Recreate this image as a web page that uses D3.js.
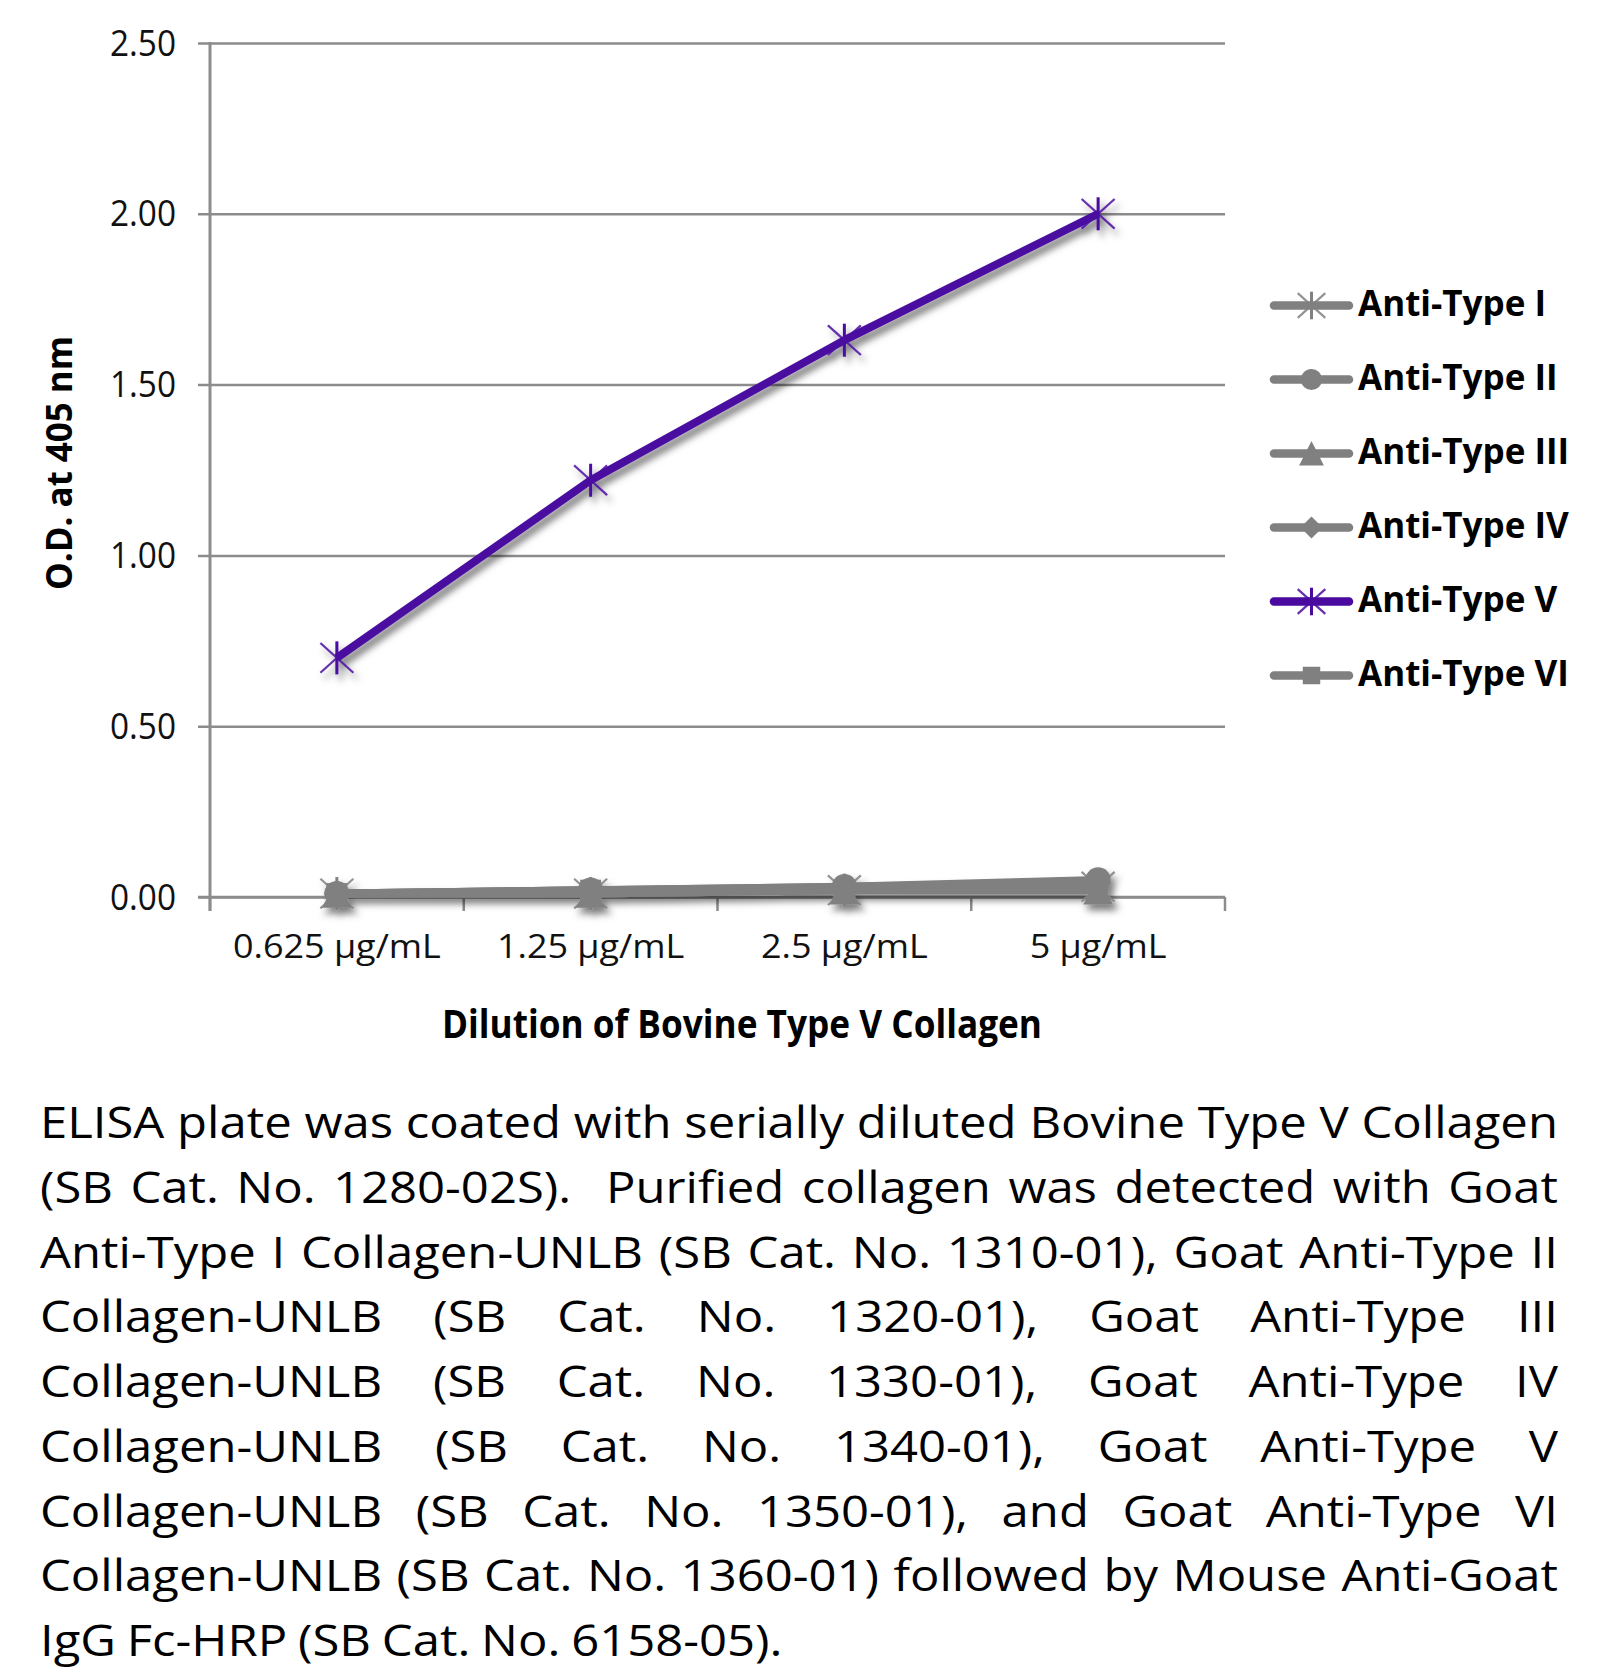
<!DOCTYPE html>
<html><head><meta charset="utf-8">
<script src="https://cdn.jsdelivr.net/npm/d3@7"></script>
<style>body{margin:0;background:#fff} svg{display:block}</style>
</head><body>
<svg id="c" width="1620" height="1674"></svg>
<script>
const categories = ["0.625 μg/mL", "1.25 μg/mL", "2.5 μg/mL", "5 μg/mL"];
const seriesNames = ["Anti-Type I", "Anti-Type II", "Anti-Type III", "Anti-Type IV", "Anti-Type V", "Anti-Type VI"];
const typeI   = [0.01, 0.01, 0.02, 0.03];
const typeII  = [0.01, 0.02, 0.03, 0.05];
const typeIII = [0.01, 0.01, 0.02, 0.02];
const typeIV  = [0.01, 0.02, 0.03, 0.04];
const typeV   = [0.70, 1.22, 1.63, 2.00];
const typeVI  = [0.01, 0.02, 0.02, 0.04];
const yTicks  = [0, 0.5, 1.0, 1.5, 2.0, 2.5];
const yTitle = "O.D. at 405 nm";
const xTitle = "Dilution of Bovine Type V Collagen";
const captionLines = [
  "ELISA plate was coated with serially diluted Bovine Type V Collagen",
  "(SB Cat. No. 1280-02S).  Purified collagen was detected with Goat",
  "Anti-Type I Collagen-UNLB (SB Cat. No. 1310-01), Goat Anti-Type II",
  "Collagen-UNLB (SB Cat. No. 1320-01), Goat Anti-Type III",
  "Collagen-UNLB (SB Cat. No. 1330-01), Goat Anti-Type IV",
  "Collagen-UNLB (SB Cat. No. 1340-01), Goat Anti-Type V",
  "Collagen-UNLB (SB Cat. No. 1350-01), and Goat Anti-Type VI",
  "Collagen-UNLB (SB Cat. No. 1360-01) followed by Mouse Anti-Goat",
  "IgG Fc-HRP (SB Cat. No. 6158-05)."
];

const seriesValues = [typeI, typeII, typeIII, typeIV, typeV, typeVI];
const seriesColors = ["#808080", "#808080", "#808080", "#808080", "#4a0aa0", "#808080"];
const seriesMarkers = ["asterisk", "circle", "triangle", "diamond", "asterisk", "square"];

const svg = d3.select("#c");
const FONT = "'Open Sans', 'Noto Sans', sans-serif";
const GRID = "#8c8c8c";

const x = d3.scaleBand().domain(categories).range([210, 1225]).padding(0);
const y = d3.scaleLinear().domain([0, 2.5]).range([897, 43]);

// filter for drop shadow
const defs = svg.append("defs");
const f = defs.append("filter").attr("id", "sh").attr("x", "-20%").attr("y", "-20%").attr("width", "140%").attr("height", "160%");
f.append("feDropShadow").attr("dx", 4).attr("dy", 6).attr("stdDeviation", 3.5)
  .attr("flood-color", "#000").attr("flood-opacity", 0.5);

function squeeze(sel, factor) {
  sel.each(function () {
    const w = this.getComputedTextLength();
    d3.select(this).attr("textLength", w * factor).attr("lengthAdjust", "spacingAndGlyphs");
  });
}

// gridlines
const gGrid = svg.append("g").attr("transform", "translate(1225,0)")
  .call(d3.axisLeft(y).tickValues(yTicks).tickSize(1225 - 198).tickFormat(""));
gGrid.select(".domain").remove();
gGrid.selectAll("line").attr("stroke", GRID).attr("stroke-width", 2.5);

// y axis line
svg.append("line").attr("x1", 210).attr("x2", 210).attr("y1", y(2.5) - 1).attr("y2", 911)
  .attr("stroke", GRID).attr("stroke-width", 3);

// y tick labels
const yl = svg.append("g").selectAll("text").data(yTicks).join("text")
  .attr("x", 176).attr("y", d => y(d) + 12.5)
  .attr("text-anchor", "end").attr("font-family", FONT).attr("font-size", 36).attr("fill", "#111")
  .text(d => d3.format(".2f")(d));
{
  const w0 = yl.node().getComputedTextLength();
  squeeze(yl, 66 / w0);
}

// x axis
const gx = svg.append("g").attr("transform", "translate(0,897)");
gx.append("line").attr("x1", 198).attr("x2", 1225).attr("stroke", GRID).attr("stroke-width", 2.5);
const edges = categories.map(c => x(c)).concat([x(categories[categories.length - 1]) + x.bandwidth()]);
gx.selectAll("line.tk").data(edges).join("line").attr("class", "tk")
  .attr("x1", d => d).attr("x2", d => d).attr("y1", 0).attr("y2", 14)
  .attr("stroke", GRID).attr("stroke-width", 2.5);
const xl = svg.append("g").selectAll("text").data(categories).join("text")
  .attr("x", d => x(d) + x.bandwidth() / 2).attr("y", 958)
  .attr("text-anchor", "middle").attr("font-family", FONT).attr("font-size", 32).attr("fill", "#111")
  .text(d => d);
{
  const w0 = xl.node().getComputedTextLength();
  squeeze(xl, 208 / w0);
}

// axis titles
svg.append("text").attr("transform", "translate(72,463) rotate(-90)")
  .attr("text-anchor", "middle").attr("font-family", FONT).attr("font-weight", 700)
  .attr("font-size", 35).attr("fill", "#000").text(yTitle)
  .attr("textLength", 254).attr("lengthAdjust", "spacingAndGlyphs");
svg.append("text").attr("x", 742).attr("y", 1038)
  .attr("text-anchor", "middle").attr("font-family", FONT).attr("font-weight", 700)
  .attr("font-size", 39).attr("fill", "#000").text(xTitle)
  .attr("textLength", 600).attr("lengthAdjust", "spacingAndGlyphs");

// markers
function drawMarker(g, type, color, s) {
  if (type === "asterisk") {
    const r = 15 * s;
    g.append("line").attr("x1", 0).attr("x2", 0).attr("y1", -r).attr("y2", r)
      .attr("stroke", color).attr("stroke-width", 3);
    g.append("line").attr("x1", -r).attr("x2", r).attr("y1", -r * 0.9).attr("y2", r * 0.9)
      .attr("stroke", color).attr("stroke-width", 2.2).attr("stroke-opacity", 0.85);
    g.append("line").attr("x1", -r).attr("x2", r).attr("y1", r * 0.9).attr("y2", -r * 0.9)
      .attr("stroke", color).attr("stroke-width", 2.2).attr("stroke-opacity", 0.85);
  } else if (type === "circle") {
    g.append("circle").attr("r", 11.5 * s).attr("fill", color);
  } else if (type === "triangle") {
    const a = 13.5 * s;
    g.append("path").attr("d", `M0,${-a}L${a},${a * 0.96}L${-a},${a * 0.96}Z`).attr("fill", color);
  } else if (type === "diamond") {
    const a = 12 * s;
    g.append("path").attr("d", `M0,${-a}L${a},0L0,${a}L${-a},0Z`).attr("fill", color);
  } else if (type === "square") {
    const a = 9.5 * s;
    g.append("rect").attr("x", -a).attr("y", -a).attr("width", 2 * a).attr("height", 2 * a).attr("fill", color);
  }
}

// series
const line = d3.line().x((d, i) => x(categories[i]) + x.bandwidth() / 2).y(d => y(d));
const gSeries = svg.append("g").attr("filter", "url(#sh)");
seriesValues.forEach((vals, si) => {
  const gs = gSeries.append("g");
  gs.append("path").attr("d", line(vals)).attr("fill", "none")
    .attr("stroke", seriesColors[si]).attr("stroke-width", 8).attr("stroke-linejoin", "round");
  vals.forEach((v, i) => {
    const gm = gs.append("g").attr("transform", `translate(${x(categories[i]) + x.bandwidth() / 2},${y(v)})`);
    drawMarker(gm, seriesMarkers[si], seriesColors[si], 1.1);
  });
});

// legend
const leg = svg.append("g");
const legTexts = [];
seriesNames.forEach((name, i) => {
  const cy = 305.5 + i * 74;
  const g = leg.append("g").attr("transform", `translate(0,${cy})`);
  g.append("line").attr("x1", 1274).attr("x2", 1349).attr("y1", 0).attr("y2", 0)
    .attr("stroke", seriesColors[i]).attr("stroke-width", 8.5).attr("stroke-linecap", "round");
  const gm = g.append("g").attr("transform", "translate(1311.5,0)");
  drawMarker(gm, seriesMarkers[i], seriesColors[i], 0.92);
  const t = g.append("text").attr("x", 1358).attr("y", 10.2)
    .attr("font-family", FONT).attr("font-weight", 700).attr("font-size", 36).attr("fill", "#000")
    .text(name);
  legTexts.push(t);
});
{
  const w0 = legTexts[0].node().getComputedTextLength();
  const fct = 188 / w0;
  legTexts.forEach(t => squeeze(t, fct));
}

// caption (justified)
const capLeft = 40, capRight = 1558, capW = capRight - capLeft;
const capFont = 44;
const baseline0 = 1138, lineGap = 64.75;
const cap = svg.append("g");
const meas = svg.append("text").attr("font-family", FONT).attr("font-size", capFont).attr("visibility", "hidden");
function wOf(s) { meas.text(s); return meas.node().getComputedTextLength(); }
const spaceW = wOf("a b") - wOf("ab");
const l0words = captionLines[0].split(" ");
const l0nat = d3.sum(l0words, wOf) + spaceW * (l0words.length - 1);
const sx = capW / l0nat;
captionLines.forEach((ln, li) => {
  const words = ln.split(" ");
  const widths = words.map(wOf);
  const last = li === captionLines.length - 1;
  const gap = last ? spaceW * 0.85 : (capW / sx - d3.sum(widths)) / (words.length - 1);
  const g = cap.append("g").attr("transform", `translate(${capLeft},${baseline0 + li * lineGap}) scale(${sx},1)`);
  let cx = 0;
  words.forEach((w, wi) => {
    if (w.length) {
      g.append("text").attr("x", cx).attr("y", 0).attr("font-family", FONT)
        .attr("font-size", capFont).attr("fill", "#000").text(w);
    }
    cx += widths[wi] + gap;
  });
});
meas.remove();
</script>
</body></html>
